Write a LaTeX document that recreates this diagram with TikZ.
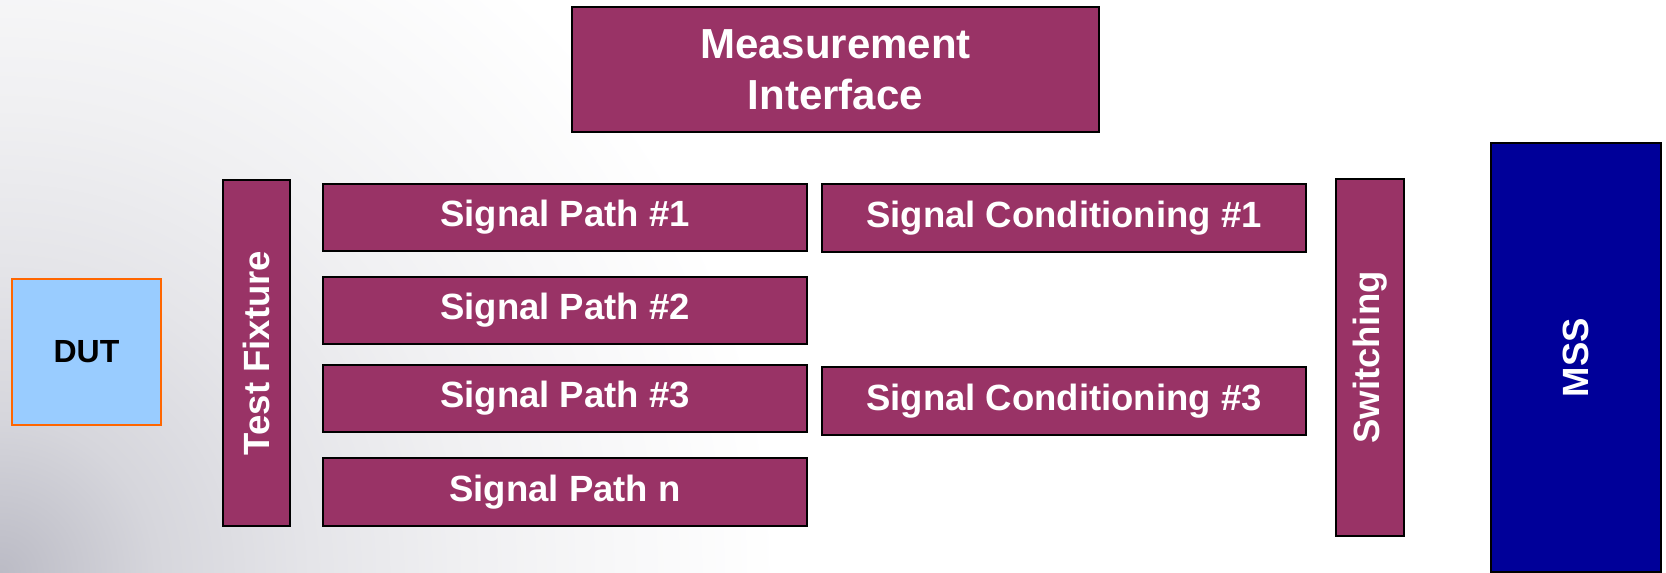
\documentclass[tikz,border=0pt]{standalone}
\usepackage{fontspec}
\setmainfont{Liberation Sans}
\definecolor{boxmag}{HTML}{993366}
\definecolor{mssblue}{HTML}{000099}
\definecolor{dutfill}{HTML}{99CCFF}
\definecolor{dutline}{HTML}{FF6600}
\definecolor{bgzero}{HTML}{BBBBC5}
\definecolor{bgone}{HTML}{D6D6DC}
\definecolor{bgtwo}{HTML}{E5E5E9}
\definecolor{bgthree}{HTML}{F0F0F2}
\definecolor{bgfour}{HTML}{F8F8F9}
\pgfdeclareradialshading{bgshade}{\pgfpoint{0bp}{0bp}}{color(0bp)=(bgzero); color(5bp)=(bgone); color(10bp)=(bgtwo); color(15bp)=(bgthree); color(20bp)=(bgfour); color(25bp)=(white); color(50bp)=(white)}
\tikzset{
  box/.style={draw=black, line width=1.1pt, fill=boxmag, text=white,
    font=\bfseries\fontsize{18.25}{22}\selectfont, inner sep=0pt, outer sep=0pt, align=center},
  pathbox/.style={box, minimum width=242pt, minimum height=33.5pt},
  vbox/.style={box, rotate=90},
}
\begin{document}
\begin{tikzpicture}[x=0.5pt,y=-0.5pt]
\useasboundingbox (0,0) rectangle (1666,573);
\fill[white] (0,0) rectangle (1666,573);
\begin{scope}
  \clip (0,0) rectangle (1666,573);
  \shade[shading=bgshade] (0,573) circle (780);
\end{scope}

\node[box, minimum width=263.5pt, minimum height=62.5pt,
  font=\bfseries\fontsize{21}{25.5}\selectfont] (mi) at (835.5,69.5) {Measurement\\Interface};

\node[draw=dutline, line width=1.3pt, fill=dutfill, text=black,
  font=\bfseries\fontsize{16}{18}\selectfont, inner sep=0pt,
  minimum width=74.5pt, minimum height=73pt] (dut) at (86.5,352) {DUT};

\node[vbox, minimum width=173pt, minimum height=33.5pt] (tf) at (256.5,353) {Test Fixture};

\node[pathbox] (sp1) at (565,217.5) {Signal Path \#1};
\node[pathbox] (sp2) at (565,310.5) {Signal Path \#2};
\node[pathbox] (sp3) at (565,398.5) {Signal Path \#3};
\node[pathbox, minimum height=34pt] (spn) at (565,492) {Signal Path n};

\node[pathbox, minimum height=34pt] (sc1) at (1064,218) {Signal Conditioning \#1};
\node[pathbox, minimum height=34pt] (sc3) at (1064,401) {Signal Conditioning \#3};

\node[vbox, minimum width=178.5pt, minimum height=34pt] (sw) at (1370,357.5) {Switching};

\node[box, fill=mssblue, rotate=90, minimum width=214.5pt, minimum height=85pt] (mss) at (1576,357.5) {MSS};
\end{tikzpicture}
\end{document}
